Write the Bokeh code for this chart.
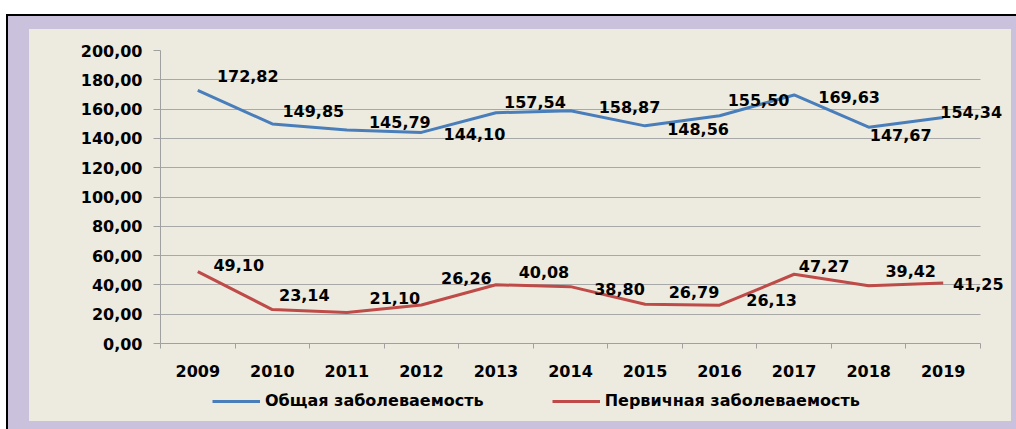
from bokeh.plotting import figure
from bokeh.models import (Range1d, FixedTicker, LinearAxis, ColumnDataSource, LabelSet,
                          Legend, LegendItem, Column, Grid)
from bokeh.core.properties import value
from bokeh.embed import file_html
from bokeh.resources import INLINE

# ---------------- data ----------------
years = ["2009", "2010", "2011", "2012", "2013", "2014", "2015", "2016", "2017", "2018", "2019"]
general = [172.82, 149.85, 145.79, 144.10, 157.54, 158.87, 148.56, 155.50, 169.63, 147.67, 154.34]
primary = [49.10, 23.14, 21.10, 26.26, 40.08, 38.80, 26.79, 26.13, 47.27, 39.42, 41.25]
y_ticks = [0, 20, 40, 60, 80, 100, 120, 140, 160, 180, 200]
y_tick_labels = ["0,00", "20,00", "40,00", "60,00", "80,00", "100,00",
                 "120,00", "140,00", "160,00", "180,00", "200,00"]
series_names = ["Общая заболеваемость", "Первичная заболеваемость"]

# ---------------- label placement (screen px, +dy = downwards) ----------------
general_dx = [50, 41, 53, 53, 39, 59, 53, 39, 55, 32, 28]
general_dy = [-14, -13, -8, 2, -11, -4, 3, -16, 2, 8, -5]
primary_dx = [41, 32, 48, 45, 48, 49, 49, 52, 30, 42, 35]
primary_dy = [-7, -15, -15, -27, -13, 2, -12, -5, -8, -15, 1]

# ---------------- styles ----------------
FONT = "DejaVu Sans"
FS = "16px"
BEIGE = "#edebe0"
LAV = "#cac1dc"
BLUE = "#4a7ebb"
RED = "#be4b48"
GRID = "#a8a8a8"
AXIS = "#a0a0a0"


def fmt(v):
    return f"{v:.2f}".replace(".", ",")


n = len(years)
xs = list(range(n))
CAT_W = 820 / n              # px per category
EXTRA = 25                   # px of frame beyond the last category (room for labels)
PANEL_W = 982
LEG_H = 40

p = figure(width=PANEL_W, height=392 - LEG_H,
           x_range=Range1d(-0.5, n - 0.5 + EXTRA / CAT_W), y_range=Range1d(0, 200),
           output_backend="svg", toolbar_location=None,
           x_axis_type=None, y_axis_type=None,
           min_border_left=131, min_border_right=6, min_border_top=21, min_border_bottom=38,
           border_fill_alpha=0, background_fill_alpha=0, outline_line_color=None)

# y axis
yaxis = LinearAxis(ticker=FixedTicker(ticks=y_ticks),
                   major_label_overrides={t: l for t, l in zip(y_ticks, y_tick_labels)})
yaxis.axis_line_color = AXIS
yaxis.major_tick_line_color = AXIS
yaxis.major_tick_out = 7
yaxis.major_tick_in = 0
yaxis.minor_tick_line_color = None
yaxis.major_label_standoff = 11
yaxis.major_label_text_font = FONT
yaxis.major_label_text_font_style = "bold"
yaxis.major_label_text_font_size = FS
yaxis.major_label_text_color = "black"
p.add_layout(yaxis, "left")
p.add_layout(Grid(dimension=1, ticker=yaxis.ticker, grid_line_color=GRID, grid_line_width=1,
                  cross_bounds=(-0.5, n - 0.5)))

# x axis: labels at category centres, tick marks (minor) between categories
xaxis = LinearAxis(ticker=FixedTicker(ticks=xs, minor_ticks=[i - 0.5 for i in range(n + 1)]),
                   major_label_overrides={i: y for i, y in zip(xs, years)},
                   bounds=(-0.5, n - 0.5))
xaxis.axis_line_color = AXIS
xaxis.major_tick_line_color = None
xaxis.major_tick_out = 0
xaxis.major_tick_in = 0
xaxis.minor_tick_line_color = AXIS
xaxis.minor_tick_out = 5
xaxis.minor_tick_in = 0
xaxis.major_label_standoff = 16
xaxis.major_label_text_font = FONT
xaxis.major_label_text_font_style = "bold"
xaxis.major_label_text_font_size = FS
xaxis.major_label_text_color = "black"
p.add_layout(xaxis, "below")

p.line(xs, general, line_color=BLUE, line_width=3)
p.line(xs, primary, line_color=RED, line_width=3)

src1 = ColumnDataSource(dict(x=xs, y=general, t=[fmt(v) for v in general],
                             dx=general_dx, dy=[-d for d in general_dy]))
src2 = ColumnDataSource(dict(x=xs, y=primary, t=[fmt(v) for v in primary],
                             dx=primary_dx, dy=[-d for d in primary_dy]))
for src in (src1, src2):
    p.add_layout(LabelSet(x="x", y="y", text="t", x_offset="dx", y_offset="dy", source=src,
                          text_align="center", text_baseline="middle",
                          text_font=value(FONT), text_font_style="bold",
                          text_font_size=FS, text_color="black"))

# ---------------- legend strip (separate figure under the chart) ----------------
pl = figure(width=PANEL_W, height=LEG_H, x_range=Range1d(0, 100), y_range=Range1d(0, 100),
            output_backend="svg", toolbar_location=None,
            x_axis_type=None, y_axis_type=None,
            min_border_left=0, min_border_right=0, min_border_top=0, min_border_bottom=0,
            border_fill_alpha=0, background_fill_alpha=0, outline_line_color=None)
# legend swatches only (kept outside the visible range)
lr1 = pl.line(x=[-50, -40], y=[-50, -50], line_color=BLUE, line_width=3)
lr2 = pl.line(x=[-50, -40], y=[-50, -50], line_color=RED, line_width=3)
legend = Legend(items=[LegendItem(label=series_names[0], renderers=[lr1]),
                       LegendItem(label=series_names[1], renderers=[lr2])],
                orientation="horizontal", location=(52, 11),
                glyph_width=48, glyph_height=18, label_standoff=5, spacing=68,
                padding=0, margin=0, border_line_color=None, background_fill_alpha=0,
                label_text_font=FONT, label_text_font_style="bold",
                label_text_font_size=FS, label_text_color="black")
pl.add_layout(legend, "center")

panel = Column(children=[p, pl], margin=(13, 5, 8, 21), spacing=0,
               styles={"background-color": BEIGE})
col = Column(children=[panel], margin=(14, 0, 0, 6), spacing=0,
             styles={"background-color": LAV, "border-top": "2px solid black",
                     "border-left": "2px solid black"})

open("out.html", "w").write(file_html(col, INLINE))
